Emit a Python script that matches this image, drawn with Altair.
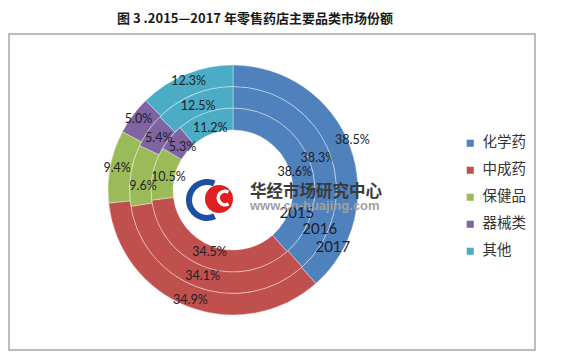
import altair as alt
import pandas as pd

# ---------------- data ----------------
categories = ["化学药", "中成药", "保健品", "器械类", "其他"]
colors = ["#4f81bd", "#c0504d", "#9bbb59", "#8064a2", "#4bacc6"]
years = ["2015", "2016", "2017"]
share_2015 = [38.6, 34.5, 10.5, 5.3, 11.2]
share_2016 = [38.3, 34.1, 9.6, 5.4, 12.5]
share_2017 = [38.5, 34.9, 9.4, 5.0, 12.3]
title_text = "图 3 .2015—2017 年零售药店主要品类市场份额"
watermark_name = "华经市场研究中心"
watermark_url = "www.cn-huajing.com"

rows = []
for yr, vals in zip(years, [share_2015, share_2016, share_2017]):
    for i, (c, v) in enumerate(zip(categories, vals)):
        rows.append({"year": yr, "cat": c, "value": v, "idx": i, "label": f"{v:.1f}%"})
df = pd.DataFrame(rows)
one = pd.DataFrame({"k": [0]})

# ---------------- layout ----------------
W, H = 546, 346
CX, CY = 225, 182
rings = {"2015": (60, 82, 66), "2016": (82, 103.5, 91), "2017": (103.5, 125, 118)}
year_pos = {"2015": (1.92, 68), "2016": (1.99, 95), "2017": (2.09, 115)}
label_dx = {"2015": 0, "2016": 0,
            "2017": {"expr": "datum.cat === '化学药' ? 9 : 0"}}
label_dy = {"2015": {"expr": "datum.cat === '化学药' ? 5 : 0"},
            "2016": {"expr": "datum.cat === '保健品' ? 9 : datum.cat === '化学药' ? 1 : 0"},
            "2017": {"expr": "datum.cat === '化学药' ? -8 : 0"}}

color_scale = alt.Scale(domain=categories, range=colors)

frame = alt.Chart(one).mark_rect(fill="white", stroke="#a8a8a8", strokeWidth=1.5).encode(
    x=alt.value(1), x2=alt.value(527), y=alt.value(26), y2=alt.value(342)
)

title = alt.Chart(one).mark_text(
    font="Noto Sans CJK SC", fontWeight="bold", fontSize=13, color="#1a1a1a",
    align="center", baseline="middle"
).encode(x=alt.value(247), y=alt.value(10.5), text=alt.value(title_text))

layers = [frame, title]
for yr in years:
    r0, r1, rm = rings[yr]
    base = alt.Chart(df).transform_filter(alt.datum.year == yr)
    arc = base.mark_arc(innerRadius=r0, outerRadius=r1, stroke="white",
                        strokeWidth=0.6, strokeOpacity=0.6).encode(
        theta=alt.Theta("value:Q", stack="normalize"),
        color=alt.Color("cat:N", scale=color_scale, sort=categories,
                        legend=alt.Legend(
                            orient="none", legendX=455, legendY=128, title=None,
                            symbolType="square", symbolSize=50, symbolStrokeWidth=0,
                            labelFont="Noto Sans CJK SC", labelFontSize=14.5,
                            labelColor="#333333", rowPadding=12, labelOffset=5)),
        order=alt.Order("idx:Q"),
        x=alt.value(CX), y=alt.value(CY),
    )
    txt = base.mark_text(radius=rm, font="Lato", fontSize=12.5, color="#1e1e28",
                         align="center", baseline="middle",
                         dx=label_dx[yr], dy=label_dy[yr]).encode(
        theta=alt.Theta("value:Q", stack="normalize"),
        order=alt.Order("idx:Q"),
        text="label:N",
        x=alt.value(CX), y=alt.value(CY),
    )
    layers += [arc, txt]

for yr in years:
    th, rr = year_pos[yr]
    layers.append(
        alt.Chart(one).mark_text(theta=th, radius=rr, font="Lato", fontSize=15,
                                 color="#1e1e28", align="center", baseline="middle")
        .encode(x=alt.value(CX), y=alt.value(CY), text=alt.value(yr))
    )

# watermark logo
layers.append(alt.Chart(one).mark_arc(innerRadius=15, outerRadius=21, theta=2.7,
                                      theta2=6.7, color="#1f4fa0")
              .encode(x=alt.value(199), y=alt.value(192)))
layers.append(alt.Chart(one).mark_arc(innerRadius=0, outerRadius=14, theta=0,
                                      theta2=6.2832, color="#e02020")
              .encode(x=alt.value(211), y=alt.value(191)))
layers.append(alt.Chart(one).mark_arc(innerRadius=5, outerRadius=8.5, theta=2.6,
                                      theta2=6.8, color="white")
              .encode(x=alt.value(217), y=alt.value(190)))
layers.append(alt.Chart(one).mark_text(font="Noto Sans CJK SC", fontWeight="bold",
                                       fontSize=16.5, color="#3a3a3a", align="left",
                                       baseline="middle")
              .encode(x=alt.value(242), y=alt.value(184), text=alt.value(watermark_name)))
layers.append(alt.Chart(one).mark_text(font="Liberation Sans", fontWeight="bold",
                                       fontSize=13, color="#a0a0a0", align="left",
                                       baseline="middle")
              .encode(x=alt.value(242), y=alt.value(198), text=alt.value(watermark_url)))

chart = alt.layer(*layers).properties(
    width=W, height=H, padding=0, autosize=alt.AutoSizeParams(type="none"),
    background="white"
).configure_view(stroke=None)

chart.save("out.html", embed_options={"renderer": "svg", "actions": False})
